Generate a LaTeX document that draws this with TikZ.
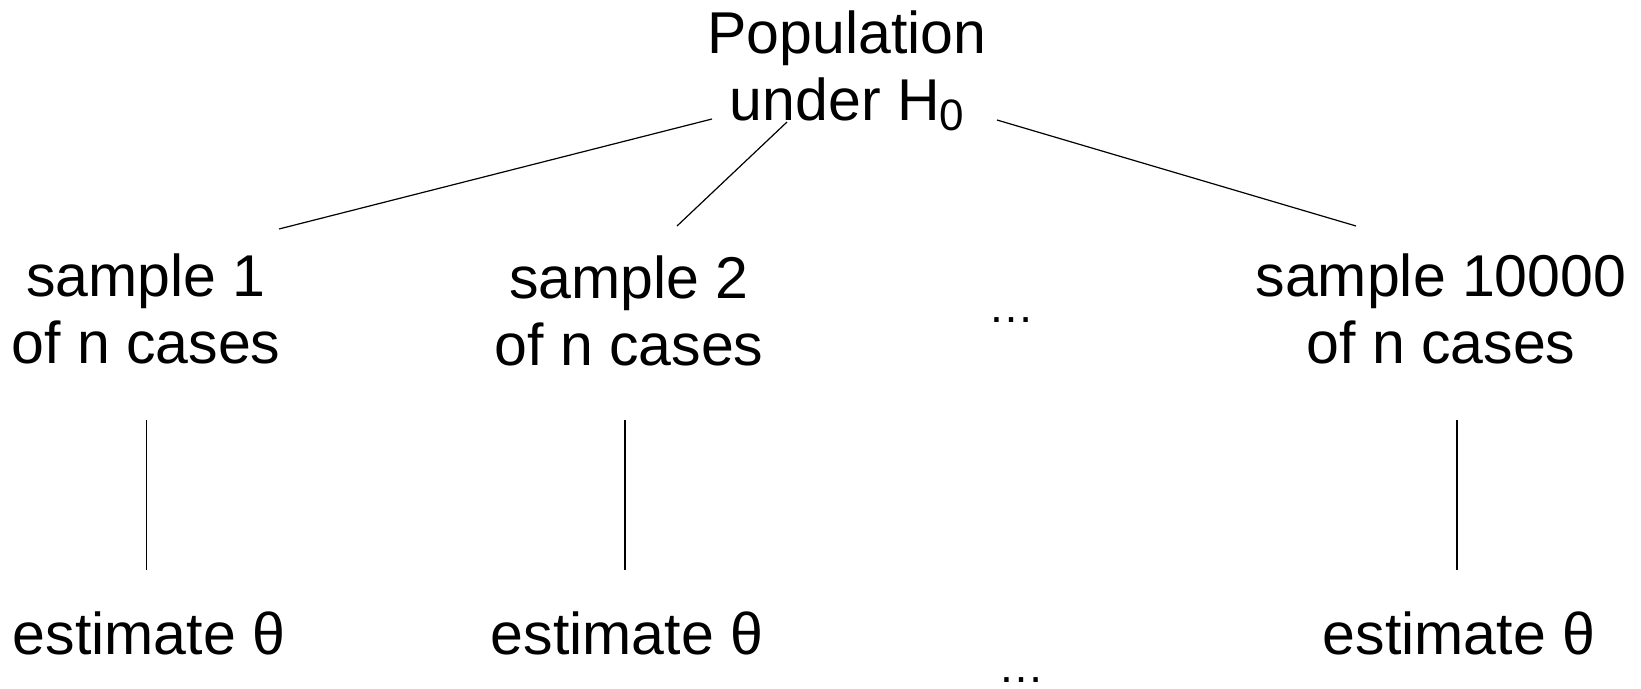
\documentclass[tikz,border=0pt]{standalone}
\usepackage{fontspec}
\setmainfont{Liberation Sans}
\begin{document}
\begin{tikzpicture}[x=1pt,y=-1pt,
  lbl/.style={inner sep=0pt,anchor=base,align=center,
    font=\fontsize{59}{67}\selectfont},
  dots/.style={inner sep=0pt,anchor=base,font=\fontsize{46}{46}\selectfont},
  link/.style={line width=1.2pt}]
\useasboundingbox (0,0) rectangle (1641,688);

% top node (anchored at the baseline of its last line)
\node[lbl] (pop) at (847,120) {Population\\under H\raisebox{-10pt}{\fontsize{44}{44}\selectfont 0}};

% samples
\node[lbl] (s1) at (146,363) {sample 1\\of n cases};
\node[lbl] (s2) at (629,365) {sample 2\\of n cases};
\node[dots] (sd) at (1011,322) {…};
\node[lbl] (sn) at (1441,363) {sample 10000\\of n cases};

% estimates
\node[lbl] (e1) at (149,654) {estimate θ};
\node[lbl] (e2) at (627,654) {estimate θ};
\node[dots] (ed) at (1021,682) {…};
\node[lbl] (en) at (1459,654) {estimate θ};

% connector end points
\coordinate (p1) at (712,119);
\coordinate (p2) at (787,122);
\coordinate (p3) at (997,120);
\coordinate (s1t) at (279,229);
\coordinate (s2t) at (677,226);
\coordinate (snt) at (1356,226);
\coordinate (s1b) at (146.5,420);
\coordinate (e1t) at (146.5,570);
\coordinate (s2b) at (625,420);
\coordinate (e2t) at (625,570);
\coordinate (snb) at (1457,420);
\coordinate (ent) at (1457,570);

\draw[link] (p1) -- (s1t);
\draw[link] (p2) -- (s2t);
\draw[link] (p3) -- (snt);
\draw[link] (s1b) -- (e1t);
\draw[link] (s2b) -- (e2t);
\draw[link] (snb) -- (ent);
\end{tikzpicture}
\end{document}
